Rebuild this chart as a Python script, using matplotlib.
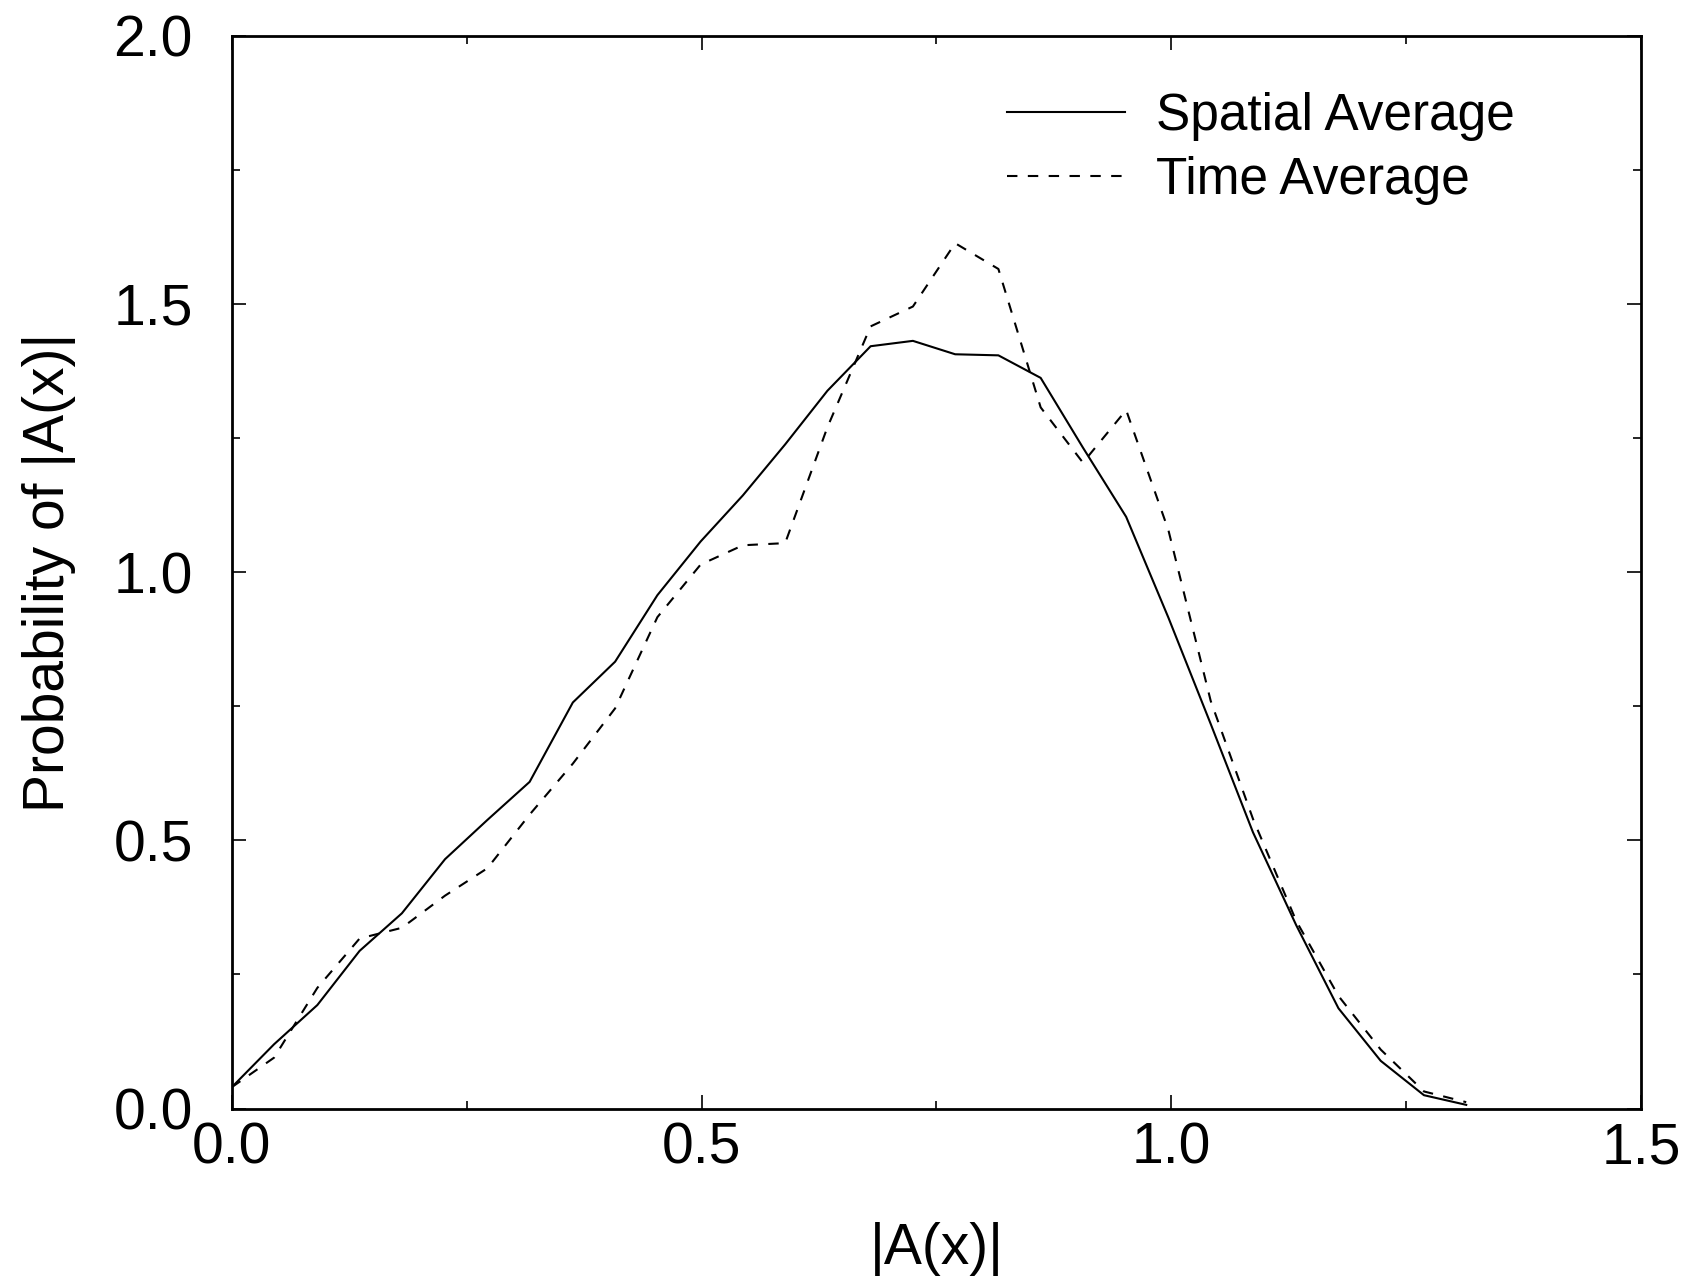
import numpy as np
import matplotlib
matplotlib.use("Agg")
import matplotlib.pyplot as plt
from matplotlib.ticker import MultipleLocator

plt.rcParams['font.family'] = ['Liberation Sans', 'DejaVu Sans']

# |A(x)| bins
amp = [0.0, 0.045, 0.091, 0.136, 0.181, 0.227, 0.272, 0.317, 0.363, 0.408,
       0.453, 0.499, 0.544, 0.589, 0.634, 0.680, 0.725, 0.770, 0.816, 0.861,
       0.906, 0.952, 0.997, 1.042, 1.087, 1.133, 1.178, 1.223, 1.269, 1.314]

spatial_avg = [0.04, 0.12, 0.193, 0.294, 0.364, 0.465, 0.538, 0.609, 0.757, 0.833,
               0.957, 1.057, 1.143, 1.238, 1.338, 1.421, 1.431, 1.406, 1.404, 1.362,
               1.232, 1.103, 0.915, 0.717, 0.515, 0.342, 0.187, 0.089, 0.025, 0.007]

time_avg = [0.04, 0.095, 0.225, 0.317, 0.337, 0.397, 0.448, 0.548, 0.643, 0.746,
            0.916, 1.014, 1.050, 1.054, 1.27, 1.458, 1.495, 1.613, 1.565, 1.307,
            1.204, 1.302, 1.078, 0.76, 0.54, 0.35, 0.21, 0.11, 0.032, 0.012]

fig = plt.figure(figsize=(16.91, 12.80), dpi=100)
ax = fig.add_axes([0.1371, 0.1339, 0.8333, 0.8383])

ax.plot(amp, spatial_avg, color='black', lw=1.5, label='Spatial Average')
ax.plot(amp, time_avg, color='black', lw=1.5, linestyle=(0, (5, 5)), label='Time Average')

ax.set_xlim(0, 1.5)
ax.set_ylim(0, 2.0)
ax.xaxis.set_major_locator(MultipleLocator(0.5))
ax.xaxis.set_minor_locator(MultipleLocator(0.25))
ax.yaxis.set_major_locator(MultipleLocator(0.5))
ax.yaxis.set_minor_locator(MultipleLocator(0.25))
ax.xaxis.set_major_formatter(plt.FormatStrFormatter('%.1f'))
ax.yaxis.set_major_formatter(plt.FormatStrFormatter('%.1f'))

ax.tick_params(which='both', direction='in', top=True, right=True, width=1.2,
               labelsize=41)
ax.tick_params(axis='x', pad=9)
ax.tick_params(axis='y', pad=28)
ax.tick_params(which='major', length=10)
ax.tick_params(which='minor', length=6)
for s in ax.spines.values():
    s.set_linewidth(2)

ax.set_xlabel('|A(x)|', fontsize=41, labelpad=34)
ax.set_ylabel('Probability of |A(x)|', fontsize=41, labelpad=27)

ax.legend(loc='upper right', bbox_to_anchor=(0.9105, 0.947), frameon=False,
          fontsize=37, handlelength=2.3, handletextpad=0.6, labelspacing=0.29,
          borderaxespad=0, borderpad=0)

fig.savefig('out.png', dpi=100)
